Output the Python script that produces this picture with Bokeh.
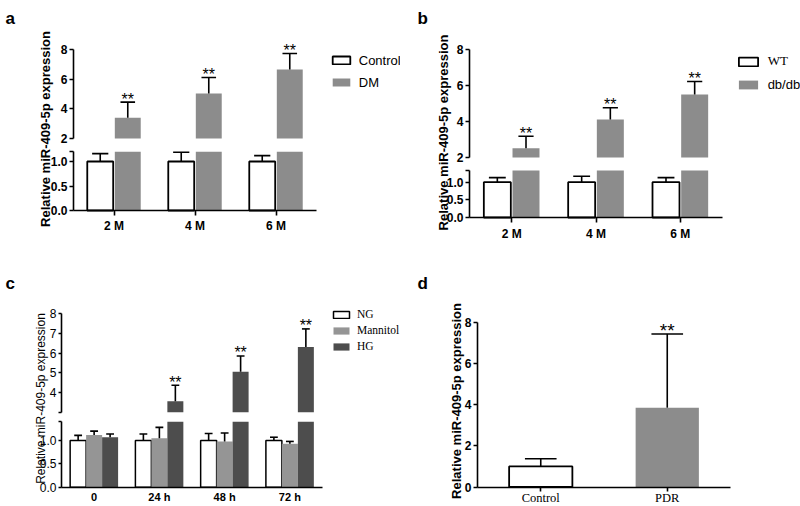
import math
import numpy as np
from bokeh.plotting import figure
from bokeh.models import (Range1d, LinearAxis, FixedTicker, Label, Grid,
                          Legend, LegendItem, ColumnDataSource, NumeralTickFormatter)
from bokeh.layouts import row, column
from bokeh.core.properties import value
from bokeh.embed import file_html
from bokeh.resources import INLINE

SANS = "Liberation Sans"
SERIF = "Liberation Serif"
YLABEL = "Relative miR-409-5p expression"

# ---------------- data ----------------
a_categories = ["2 M", "4 M", "6 M"]
a_control_mean = [1.00, 1.00, 1.00]
a_control_sd = [0.16, 0.19, 0.12]
a_dm_mean = [3.40, 5.03, 6.65]
a_dm_sd = [1.05, 1.08, 1.08]
a_dm_sig = ["**", "**", "**"]
a_lower_ticks = [0.0, 0.5, 1.0]
a_upper_ticks = [2, 4, 6, 8]

b_categories = ["2 M", "4 M", "6 M"]
b_wt_mean = [1.00, 1.00, 1.00]
b_wt_sd = [0.13, 0.17, 0.13]
b_db_mean = [2.52, 4.11, 5.50]
b_db_sd = [0.66, 0.65, 0.72]
b_db_sig = ["**", "**", "**"]
b_lower_ticks = [0.0, 0.5, 1.0]
b_upper_ticks = [2, 4, 6, 8]

c_categories = ["0", "24 h", "48 h", "72 h"]
c_ng_mean = [1.00, 1.00, 1.00, 1.00]
c_ng_sd = [0.11, 0.14, 0.15, 0.07]
c_mannitol_mean = [1.12, 1.05, 0.98, 0.93]
c_mannitol_sd = [0.08, 0.23, 0.18, 0.05]
c_hg_mean = [1.07, 3.56, 5.05, 6.30]
c_hg_sd = [0.07, 0.81, 0.80, 0.92]
c_hg_sig = ["", "**", "**", "**"]
c_lower_ticks = [0.0, 0.5, 1.0]
c_upper_ticks = [4, 5, 6, 7, 8]

d_categories = ["Control", "PDR"]
d_mean = [1.00, 3.85]
d_sd = [0.37, 3.58]
d_sig = ["", "**"]
d_ticks = [0, 2, 4, 6, 8]

WHITE = "white"
GRAY = "#8c8c8c"
MANN = "#959595"
DARK = "#4d4d4d"


class Panel:
    """One figure whose frame fills its whole canvas; positions given in page pixels."""

    def __init__(self, box, x0, x1, ncat, ycal, up_cal=None):
        self.px, self.py, self.w, self.h = box
        kx = (x1 - x0) / ncat
        xr = Range1d(start=-(x0 - self.px) / kx, end=ncat + (self.px + self.w - x1) / kx)
        p = figure(width=self.w, height=self.h, x_range=xr, y_range=self.yr(*ycal),
                   output_backend="svg", toolbar_location=None,
                   x_axis_location=None, y_axis_location=None,
                   min_border=0, min_border_left=0, min_border_right=0,
                   min_border_top=0, min_border_bottom=0)
        if up_cal is not None:
            p.extra_y_ranges = {"up": self.yr(*up_cal)}
        p.title.visible = False
        p.outline_line_color = None
        p.background_fill_color = "white"
        p.border_fill_color = "white"
        for g in p.select(type=Grid):
            g.visible = False
        self.p = p

    def yr(self, v0, y0, v1, y1):
        top, bottom = self.py, self.py + self.h
        k = (y0 - y1) / (v1 - v0)
        return Range1d(start=v0 - (bottom - y0) / k, end=v0 + (y0 - top) / k)

    def sx(self, x):
        return x - self.px

    def sy(self, y):
        return self.py + self.h - y


def style_axis(ax, font, size, bold, tick_out, standoff):
    ax.axis_line_width = 1.6
    ax.axis_line_color = "black"
    ax.major_tick_line_width = 1.6
    ax.major_tick_line_color = "black"
    ax.major_tick_out = tick_out
    ax.major_tick_in = 0
    ax.minor_tick_out = tick_out
    ax.minor_tick_in = 0
    ax.minor_tick_line_width = 1.6
    ax.minor_tick_line_color = "black"
    ax.major_label_standoff = standoff
    ax.major_label_text_font = font
    ax.major_label_text_font_size = size
    ax.major_label_text_font_style = "bold" if bold else "normal"
    ax.major_label_text_color = "black"


def x_axis(P, cats, font, size, bold, tick_out, standoff):
    centers = [i + 0.5 for i in range(len(cats))]
    ax = LinearAxis(ticker=FixedTicker(ticks=centers, minor_ticks=[]),
                    major_label_overrides={c: t for c, t in zip(centers, cats)},
                    bounds=(0, len(cats)), fixed_location=0)
    style_axis(ax, font, size, bold, tick_out, standoff)
    P.p.add_layout(ax, "below")


def broken_axes(P, lower_ticks, lower_top, upper_ticks, upper_lo, upper_hi, font, size, bold,
                tick_out=4, standoff=2):
    lo = LinearAxis(ticker=FixedTicker(ticks=lower_ticks, minor_ticks=[lower_top]),
                    formatter=NumeralTickFormatter(format="0.0"),
                    bounds=(0, lower_top), fixed_location=0)
    style_axis(lo, font, size, bold, tick_out, standoff)
    P.p.add_layout(lo, "left")
    minor = [upper_lo] if upper_lo not in upper_ticks else []
    up = LinearAxis(y_range_name="up", ticker=FixedTicker(ticks=upper_ticks, minor_ticks=minor),
                    bounds=(upper_lo, upper_hi), fixed_location=0)
    style_axis(up, font, size, bold, tick_out, standoff)
    P.p.add_layout(up, "left")


def draw_series(P, cats, mean, sd, off, width, fill, line_color, lw, cap_w,
                brk=None, sig=None, star_px="16px", first=0):
    p = P.p
    mean = np.asarray(mean, float)
    sd = np.asarray(sd, float)
    hi = mean + sd
    n = len(cats)
    xs = np.arange(first, first + n) + 0.5 + off
    if brk is None:
        low_top = mean
        up = np.zeros(n, bool)
    else:
        low_top = np.minimum(mean, brk[0])
        up = mean > brk[0]
    src = ColumnDataSource(dict(x=list(xs), top=list(low_top)))
    r = p.vbar(x="x", top="top", bottom=0, width=width, source=src,
               fill_color=fill, line_color=line_color, line_width=lw)
    idx_low = [i for i in range(n) if not up[i]]
    idx_up = [i for i in range(n) if up[i]]
    if idx_up:
        su = ColumnDataSource(dict(x=[xs[i] for i in idx_up], top=[mean[i] for i in idx_up]))
        p.vbar(x="x", top="top", bottom=brk[1], width=width, source=su,
               fill_color=fill, line_color=line_color, line_width=lw, y_range_name="up")
    for idx, rn in ((idx_low, "default"), (idx_up, "up")):
        if not idx:
            continue
        se = ColumnDataSource(dict(x=[xs[i] for i in idx],
                                   xa=[xs[i] - cap_w / 2 for i in idx],
                                   xb=[xs[i] + cap_w / 2 for i in idx],
                                   m=[mean[i] for i in idx], h=[hi[i] for i in idx],
                                   s=[(sig[i] if sig else "") for i in idx]))
        p.segment(x0="x", x1="x", y0="m", y1="h", source=se,
                  line_color="black", line_width=1.6, y_range_name=rn)
        p.segment(x0="xa", x1="xb", y0="h", y1="h", source=se,
                  line_color="black", line_width=1.6, y_range_name=rn)
        if sig:
            p.text(x="x", y="h", text="s", source=se, y_range_name=rn,
                   text_align="center", text_baseline="alphabetic", y_offset=-3,
                   text_font=value(SANS), text_font_size=star_px, text_color="black")
    return r


def add_labels(P, letter, letter_xy, ylab_xy, ylab_size, ylab_bold):
    p = P.p
    p.add_layout(Label(x=P.sx(letter_xy[0]), y=P.sy(letter_xy[1]), x_units="screen", y_units="screen",
                       text=letter, text_font=SANS, text_font_size="17px", text_font_style="bold",
                       text_align="left", text_baseline="alphabetic", text_color="black"))
    p.add_layout(Label(x=P.sx(ylab_xy[0]), y=P.sy(ylab_xy[1]), x_units="screen", y_units="screen",
                       text=YLABEL, angle=math.pi / 2, text_font=SANS, text_font_size=ylab_size,
                       text_font_style="bold" if ylab_bold else "normal",
                       text_align="center", text_baseline="middle", text_color="black"))


def add_legend(P, entries, box_left, box_w, box_h, first_cy, pitch, text_left, font, size):
    gw = box_w / 0.8
    gh = box_h / 0.8
    lh = pitch - 4
    left = box_left - 0.1 * gw
    top = first_cy - lh / 2
    height = len(entries) * lh + (len(entries) - 1) * 4
    leg = Legend(items=[LegendItem(label=t, renderers=[r]) for t, r in entries],
                 location=(P.sx(left), P.sy(top + height)),
                 glyph_width=int(round(gw)), glyph_height=int(round(gh)),
                 label_standoff=int(round(text_left - (left + gw))),
                 label_height=lh, spacing=4, padding=0, margin=0,
                 label_text_font=font, label_text_font_size=size, label_text_color="black",
                 border_line_color=None, background_fill_alpha=0)
    P.p.add_layout(leg)


# ---------------- panel a ----------------
A = Panel((0, 0, 400, 250), 73, 316, len(a_categories), (0, 210, 1.0, 161), (2, 138, 8, 49))
broken_axes(A, a_lower_ticks, 1.2, a_upper_ticks, 2, 8, SANS, "12px", True)
x_axis(A, a_categories, SANS, "12px", True, 5, 3)
ra1 = draw_series(A, a_categories, a_control_mean, a_control_sd, -0.17, 0.32, WHITE, "black", 1.8, 0.2, brk=(1.2, 2))
ra2 = draw_series(A, a_categories, a_dm_mean, a_dm_sd, 0.17, 0.32, GRAY, None, 0, 0.18, brk=(1.2, 2), sig=a_dm_sig)
add_labels(A, "a", (5, 18.3), (45, 128.5), "13px", True)
add_legend(A, [("Control", ra1), ("DM", ra2)], 332, 18, 8, 60, 22, 359, SANS, "13px")

# ---------------- panel b ----------------
B = Panel((400, 0, 400, 250), 469, 722, len(b_categories), (0, 217, 1.0, 181.7), (2, 157, 8, 49))
broken_axes(B, b_lower_ticks, 1.33, b_upper_ticks, 2, 8, SANS, "12px", True)
x_axis(B, b_categories, SANS, "12px", True, 5, 4)
rb1 = draw_series(B, b_categories, b_wt_mean, b_wt_sd, -0.17, 0.32, WHITE, "black", 1.8, 0.2, brk=(1.33, 2))
rb2 = draw_series(B, b_categories, b_db_mean, b_db_sd, 0.17, 0.32, GRAY, None, 0, 0.18, brk=(1.33, 2), sig=b_db_sig)
add_labels(B, "b", (417, 18.3), (443, 132), "13px", True)
add_legend(B, [("WT", rb1)], 738, 19, 9, 61, 22, 767, SERIF, "13px")
add_legend(B, [("db/db", rb2)], 738, 19, 9, 84, 22, 767, SANS, "13px")

# ---------------- panel c ----------------
C = Panel((0, 250, 400, 256), 61, 322, len(c_categories), (0, 486.7, 1.0, 440), (4, 392, 8, 313))
broken_axes(C, c_lower_ticks, 1.4, c_upper_ticks, 3, 8, SANS, "12px", False, tick_out=3, standoff=2)
x_axis(C, c_categories, SANS, "11px", True, 0, 4)
rc1 = draw_series(C, c_categories, c_ng_mean, c_ng_sd, -0.245, 0.245, WHITE, "black", 1.5, 0.12, brk=(1.4, 3))
rc2 = draw_series(C, c_categories, c_mannitol_mean, c_mannitol_sd, 0.0, 0.245, MANN, None, 0, 0.12, brk=(1.4, 3))
rc3 = draw_series(C, c_categories, c_hg_mean, c_hg_sd, 0.245, 0.245, DARK, None, 0, 0.12, brk=(1.4, 3), sig=c_hg_sig)
add_labels(C, "c", (5, 283.3), (40, 398), "12px", False)
add_legend(C, [("NG", rc1), ("Mannitol", rc2), ("HG", rc3)], 333, 16, 7, 314, 16, 357, SERIF, "11.5px")

# ---------------- panel d ----------------
D = Panel((400, 250, 400, 256), 477, 730, len(d_categories), (0, 486.5, 8, 321.7))
yd = LinearAxis(ticker=FixedTicker(ticks=d_ticks, minor_ticks=[]), bounds=(0, 8), fixed_location=0)
style_axis(yd, SANS, "12px", True, 4, 2)
D.p.add_layout(yd, "left")
x_axis(D, d_categories, SERIF, "12.5px", False, 4, 0)
draw_series(D, d_categories[:1], d_mean[:1], d_sd[:1], 0.0, 0.5, WHITE, "black", 1.8, 0.25)
draw_series(D, d_categories[1:], d_mean[1:], d_sd[1:], 0.0, 0.5, GRAY, None, 0, 0.25,
            sig=d_sig[1:], star_px="19px", first=1)
add_labels(D, "d", (417, 283.3), (456, 400.5), "13px", True)

root = column(row(A.p, B.p), row(C.p, D.p))
open("out.html", "w").write(file_html(root, INLINE))
